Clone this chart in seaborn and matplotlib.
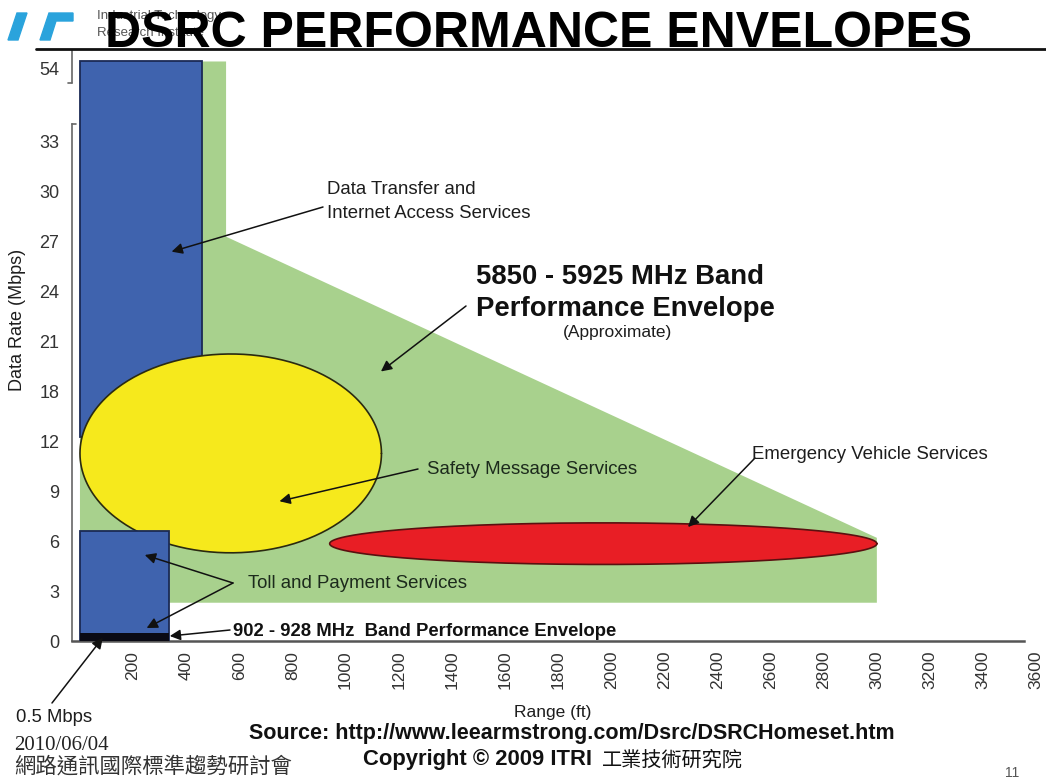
import numpy as np
import matplotlib
matplotlib.use("Agg")
import matplotlib.pyplot as plt
import seaborn as sns
from matplotlib.lines import Line2D
from matplotlib.patches import Polygon

# ---------------- data ----------------
y_tick_values = [0, 3, 6, 9, 12, 18, 21, 24, 27, 30, 33, 54]
x_tick_values = [200, 400, 600, 800, 1000, 1200, 1400, 1600, 1800, 2000,
                 2200, 2400, 2600, 2800, 3000, 3200, 3400, 3600]

# 5850-5925 MHz band performance envelope (approximate), range ft / Mbps
envelope_x = [0, 550, 550, 3000, 3000, 0]
envelope_y = [56, 56, 27.3, 6.2, 2.3, 2.3]

# Data Transfer and Internet Access Services (blue block)
data_range = [0, 460]
data_rate = [12.5, 56]

# Toll and Payment Services (blue block)
toll_range = [0, 335]
toll_rate = [0, 6.6]

# 902-928 MHz band performance envelope (0.5 Mbps)
band902_range = [0, 335]
band902_rate = [0, 0.5]

# Safety Message Services (yellow ellipse extents)
safety_range = [0, 1135]
safety_rate = [5.3, 20.25]

# Emergency Vehicle Services (red ellipse extents)
emergency_range = [940, 3000]
emergency_rate = [4.6, 7.1]

# ---------------- broken (ordinal) y scale ----------------
y_tick_pos = [0, 1, 2, 3, 4, 5, 6, 7, 8, 9, 10, 11.47]
scale_vals = np.array(y_tick_values + [75], dtype=float)
scale_pos = np.array(y_tick_pos + [12.94], dtype=float)


def fwd(v):
    return np.interp(v, scale_vals, scale_pos)


def inv(p):
    return np.interp(p, scale_pos, scale_vals)


W, H = 1046, 778
sns.set_theme(style="white")
plt.rcParams["font.family"] = ["Liberation Sans", "DejaVu Sans"]

fig = plt.figure(figsize=(W / 100, H / 100), dpi=100)
ax = fig.add_axes([72 / W, 137 / H, 973 / W, 591 / H])
ax.set_yscale("function", functions=(fwd, inv))

GREEN = "#A8D18D"
BLUE = "#3F63AE"
BLUE_EDGE = "#1B2A55"
YELLOW = "#F6E91C"
RED = "#E81E25"

# green envelope
ax.fill(envelope_x, envelope_y, color=GREEN, lw=0, zorder=1)

# blue data-transfer block
ax.bar(data_range[0], data_rate[1] - data_rate[0], bottom=data_rate[0],
       width=data_range[1] - data_range[0], align="edge", color=BLUE,
       edgecolor=BLUE_EDGE, lw=1.3, zorder=2)


def ellipse(xr, yr, n=361):
    t = np.linspace(0, 2 * np.pi, n)
    cx, rx = (xr[0] + xr[1]) / 2, (xr[1] - xr[0]) / 2
    p0, p1 = fwd(yr[0]), fwd(yr[1])
    pc, rp = (p0 + p1) / 2, (p1 - p0) / 2
    return cx + rx * np.cos(t), inv(pc + rp * np.sin(t))


sx, sy = ellipse(safety_range, safety_rate)
ax.fill(sx, sy, color=YELLOW, lw=0, zorder=3)
sns.lineplot(x=sx, y=sy, sort=False, estimator=None, color="#2a2a10",
             lw=1.2, ax=ax, zorder=3.1)

# blue toll block
ax.bar(toll_range[0], toll_rate[1] - toll_rate[0], bottom=toll_rate[0],
       width=toll_range[1] - toll_range[0], align="edge", color=BLUE,
       edgecolor=BLUE_EDGE, lw=1.3, zorder=4)
# black 902-928 MHz band
ax.bar(band902_range[0], band902_rate[1] - band902_rate[0], bottom=band902_rate[0],
       width=band902_range[1] - band902_range[0], align="edge", color="#0a0a14",
       lw=0, zorder=5)

ex, ey = ellipse(emergency_range, emergency_rate)
ax.fill(ex, ey, color=RED, lw=0, zorder=3)
sns.lineplot(x=ex, y=ey, sort=False, estimator=None, color="#5a1010",
             lw=1.2, ax=ax, zorder=3.1)

# ---------------- axes ----------------
ax.set_xlim(-30, 3633)
ax.set_ylim(0, inv(11.84))
ax.set_xlabel("")
ax.set_ylabel("")
ax.set_xticks(x_tick_values)
ax.set_xticklabels([str(v) for v in x_tick_values], rotation=90,
                   fontsize=12.5, color="#333333")
ax.set_yticks(y_tick_values)
ax.set_yticklabels([str(v) for v in y_tick_values], fontsize=13, color="#333333")
ax.tick_params(axis="x", length=0, pad=7)
ax.tick_params(axis="y", length=0, pad=9)
for s in ["top", "right"]:
    ax.spines[s].set_visible(False)
ax.spines["bottom"].set_color("#555555")
ax.spines["bottom"].set_linewidth(1.8)
ax.spines["bottom"].set_bounds(-30, 3555)
ax.spines["left"].set_color("#666666")
ax.spines["left"].set_linewidth(1.2)
ax.spines["left"].set_bounds(0, inv(10.36))
ax.set_facecolor("white")

# upper piece of the broken y axis with break hooks
ytr = ax.get_yaxis_transform()
ax.add_line(Line2D([0, 0], [inv(11.17), inv(11.84)], transform=ytr,
                   color="#666666", lw=1.2, clip_on=False))
ax.add_line(Line2D([-0.004, 0], [inv(11.17), inv(11.17)], transform=ytr,
                   color="#666666", lw=1.2, clip_on=False))
ax.add_line(Line2D([0, 0.004], [inv(10.36), inv(10.36)], transform=ytr,
                   color="#666666", lw=1.2, clip_on=False))


# ---------------- texts ----------------
def T(px, py, s, **kw):
    kw.setdefault("va", "center")
    kw.setdefault("ha", "left")
    return fig.text(px / W, 1 - py / H, s, **kw)


TXT = "#1d1d1d"
ONG = "#1c2a1c"
T(327, 190, "Data Transfer and", fontsize=13.4, color=TXT)
T(327, 213, "Internet Access Services", fontsize=13.4, color=TXT)
T(476, 277, "5850 - 5925 MHz Band", fontsize=19.8, weight="bold", color="#111111")
T(476, 309, "Performance Envelope", fontsize=19.8, weight="bold", color="#111111")
T(617, 333, "(Approximate)", fontsize=12.5, color=TXT, ha="center")
T(427, 470, "Safety Message Services", fontsize=13.4, color=ONG)
T(752, 455, "Emergency Vehicle Services", fontsize=13.4, color=TXT)
T(248, 584, "Toll and Payment Services", fontsize=13.4, color=ONG)
T(233, 632, "902 - 928 MHz  Band Performance Envelope", fontsize=13.3,
  weight="bold", color="#111111")
T(16, 718, "0.5 Mbps", fontsize=13.3, color=TXT)
T(553, 712, "Range (ft)", fontsize=12.5, color=TXT, ha="center")
T(18, 320, "Data Rate (Mbps)", fontsize=13, color=TXT, ha="center", rotation=90)
T(249, 733, "Source: http://www.leearmstrong.com/Dsrc/DSRCHomeset.htm",
  fontsize=15.5, weight="bold", color="#111111")
T(14, 745, "2010/06/04", fontsize=15, color="#222222",
  family=["Liberation Serif", "DejaVu Serif"])
T(363, 760, "Copyright © 2009 ITRI", fontsize=15.8, weight="bold", color="#111111")
T(602, 760, "工業技術研究院", fontsize=14.5, color="#111111",
  family=["Noto Sans CJK TC", "DejaVu Sans"])
T(14, 767, "網路通訊國際標準趨勢研討會", fontsize=15.4, color="#333333",
  family=["Noto Sans CJK TC", "DejaVu Sans"])
T(1012, 773, "11", fontsize=10, color="#555555", ha="center")

# slide header: logo, institute name, title and rule
fig.add_artist(Polygon([(8 / W, 1 - 40 / H), (17 / W, 1 - 13 / H),
                        (27 / W, 1 - 13 / H), (18 / W, 1 - 40 / H)],
                       closed=True, color="#2AA3DC", transform=fig.transFigure))
fig.add_artist(Polygon([(40 / W, 1 - 40 / H), (49 / W, 1 - 13 / H),
                        (73 / W, 1 - 13 / H), (73 / W, 1 - 21 / H),
                        (56 / W, 1 - 21 / H), (50 / W, 1 - 40 / H)],
                       closed=True, color="#2AA3DC", transform=fig.transFigure))
T(97, 16, "Industrial Technology", fontsize=9.5, color="#555555")
T(97, 33, "Research Institute", fontsize=9.5, color="#555555")
fig.add_artist(Line2D([36 / W, 1.0], [1 - 49 / H, 1 - 49 / H], color="#111111",
                      lw=2, transform=fig.transFigure))
T(105, 47, "DSRC PERFORMANCE ENVELOPES", fontsize=36, weight="bold",
  color="#000000", va="baseline")


# ---------------- arrows ----------------
def arrow(tip_x, tip_y, px, py):
    ax.annotate("", xy=(tip_x, tip_y), xycoords="data",
                xytext=(px, H - py), textcoords="figure pixels",
                arrowprops=dict(arrowstyle="-|>", color="#111111", lw=1.1,
                                mutation_scale=16, shrinkA=0, shrinkB=0),
                annotation_clip=False, zorder=6)


arrow(345, 26.4, 323, 207)     # data transfer
arrow(1133, 19.2, 466, 306)    # 5850 envelope
arrow(751, 8.4, 418, 469)      # safety
arrow(2289, 6.85, 755, 458)    # emergency
arrow(244, 5.17, 233, 583)     # toll (upper)
arrow(251, 0.78, 233, 583)     # toll (lower)
arrow(338, 0.3, 230, 630)      # 902-928 band
arrow(86, 0.2, 52, 703)        # 0.5 Mbps

fig.savefig("out.png", dpi=100, facecolor="white")
